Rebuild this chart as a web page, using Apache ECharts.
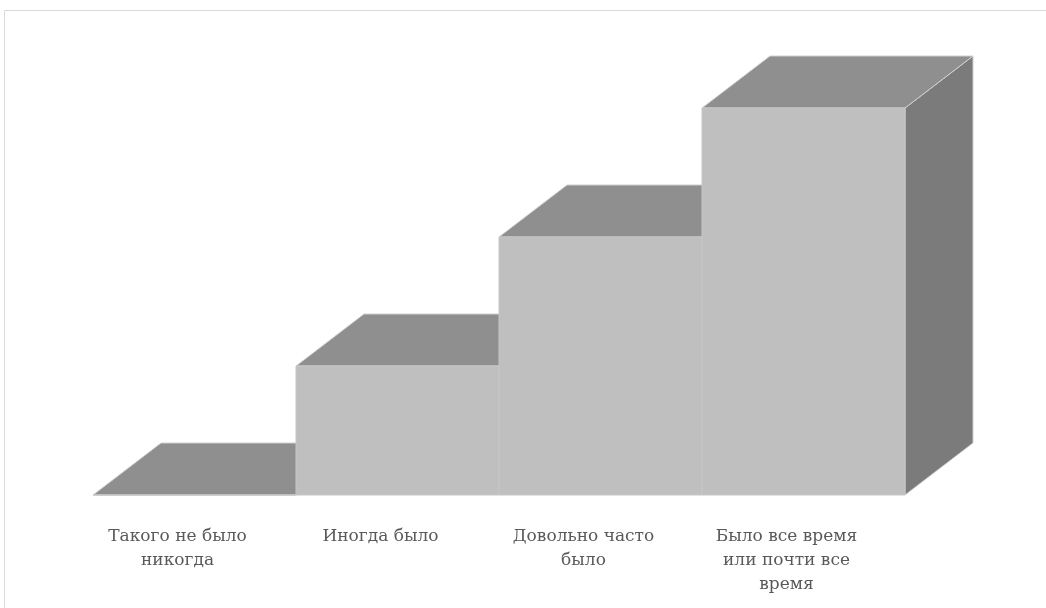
<!DOCTYPE html>
<html>
<head>
<meta charset="utf-8">
<script src="https://cdn.jsdelivr.net/npm/echarts@6/dist/echarts.min.js"></script>
<style>
  html, body { margin: 0; padding: 0; background: #fff; }
  #chart { width: 1046px; height: 608px; }
</style>
</head>
<body>
<div id="chart"></div>
<script>
  const categories = [
    "Такого не было\nникогда",
    "Иногда было",
    "Довольно часто\nбыло",
    "Было все время\nили почти все\nвремя"
  ];
  const values = [0, 1, 2, 3];

  const depthX = 68;
  const depthY = 52;

  const chart = echarts.init(document.getElementById("chart"));

  // 3d-looking block: front, top and right side
  function renderBlock(params, api) {
    const idx = api.value(0);
    const top = api.coord([idx, api.value(1)]);
    const base = api.coord([idx, 0]);
    const w = api.size([1, 0])[0];
    const x0 = top[0] - w / 2;
    const x1 = top[0] + w / 2;
    const y0 = top[1];
    const y1 = base[1];
    const edge = { stroke: "#d0d0d0", lineWidth: 1 };
    return {
      type: "group",
      children: [
        {
          type: "polygon",
          shape: { points: [[x1, y0], [x1 + depthX, y0 - depthY], [x1 + depthX, y1 - depthY], [x1, y1]] },
          style: Object.assign({ fill: "#7b7b7b" }, edge)
        },
        {
          type: "polygon",
          shape: { points: [[x0, y0], [x1, y0], [x1 + depthX, y0 - depthY], [x0 + depthX, y0 - depthY]] },
          style: Object.assign({ fill: "#8f8f8f" }, edge)
        },
        {
          type: "rect",
          shape: { x: x0, y: y0, width: w, height: y1 - y0 },
          style: { fill: "#bfbfbf", stroke: "#c6c6c6", lineWidth: 1 }
        }
      ]
    };
  }

  const option = {
    animation: false,
    backgroundColor: "#ffffff",
    graphic: [
      {
        type: "rect",
        shape: { x: 4.5, y: 10.5, width: 1100, height: 700 },
        style: { fill: "none", stroke: "#d9d9d9", lineWidth: 1 },
        silent: true
      }
    ],
    grid: { left: 93, right: 141, top: 108, bottom: 113, outerBoundsMode: "none", containLabel: false },
    xAxis: {
      type: "category",
      data: categories,
      boundaryGap: true,
      axisLine: { show: false },
      axisTick: { show: false },
      axisLabel: {
        interval: 0,
        margin: 30,
        lineHeight: 24,
        padding: [0, 34, 0, 0],
        fontFamily: "DejaVu Serif",
        fontSize: 17,
        color: "#595959"
      }
    },
    yAxis: {
      type: "value",
      min: 0,
      max: 3,
      show: false,
      splitLine: { show: false }
    },
    series: [
      {
        type: "custom",
        renderItem: renderBlock,
        data: values.map((v, i) => [i, v]),
        encode: { x: 0, y: 1 },
        clip: false
      }
    ]
  };

  chart.setOption(option);
</script>
</body>
</html>
